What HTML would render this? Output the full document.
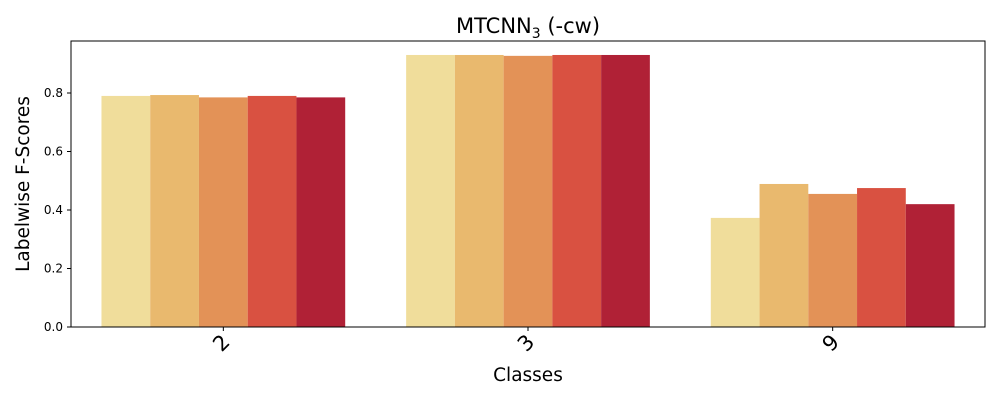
<!DOCTYPE html>
<html><head><meta charset="utf-8"><style>
body{margin:0;background:#fff;}
svg text{font-family:"DejaVu Sans","Liberation Sans",sans-serif;fill:#000;}
</style></head><body>
<svg id="chart" width="1000" height="400">
<rect width="1000" height="400" fill="#fff"/>
<g id="bars"></g>
<g id="axes"></g>
<text x="528" y="33" font-size="21" text-anchor="middle">MTCNN<tspan font-size="14" dy="5">3</tspan><tspan dy="-5"> (-cw)</tspan></text>
<text x="528" y="381" font-size="18.5" text-anchor="middle">Classes</text>
<text transform="translate(29,184) rotate(-90)" font-size="18.5" text-anchor="middle">Labelwise F-Scores</text>
</svg>
<script>
const categories=["2","3","9"];
const s1=[0.790,0.930,0.373];
const s2=[0.793,0.930,0.489];
const s3=[0.785,0.927,0.455];
const s4=[0.790,0.930,0.475];
const s5=[0.785,0.930,0.420];
const series=[s1,s2,s3,s4,s5];
const colors=["#f0dd9b","#e9b96e","#e39257","#d95141","#b02136"];
const yTicks=[0,0.2,0.4,0.6,0.8];
const L=71,R=985,T=41,B=327;
const xs=v=>L+(v+0.5)/3*(R-L);
const ys=v=>B-v*292.5;
const NS="http://www.w3.org/2000/svg";
const bars=document.getElementById('bars'),axes=document.getElementById('axes');
function mk(tag,a,p){const e=document.createElementNS(NS,tag);for(const k in a)e.setAttribute(k,a[k]);p.appendChild(e);return e;}
const bw=0.16;
series.forEach((s,si)=>s.forEach((v,ci)=>{
 const x0=xs(ci-0.4+si*bw),x1=xs(ci-0.4+(si+1)*bw);
 const r=mk('rect',{x:x0,y:ys(v),width:x1-x0,height:ys(0)-ys(v),fill:colors[si]},bars);
 
 
}));
const f=mk('rect',{x:L,y:T,width:R-L,height:B-T,fill:'none',stroke:'#000','stroke-width':1},axes);


yTicks.forEach(t=>{
 const y=ys(t);
 mk('line',{x1:L-4,x2:L,y1:y,y2:y,stroke:'#000'},axes);
 const tx=mk('text',{x:L-8,y:y+4,'font-size':12,'text-anchor':'end'},axes);
 tx.textContent=t.toFixed(1);
 
 
});
categories.forEach((c,i)=>{
 const x=xs(i);
 mk('line',{x1:x,x2:x,y1:B,y2:B+4,stroke:'#000'},axes);
 const tx=mk('text',{'font-size':21,'text-anchor':'middle',transform:`translate(${x+3},${B+21}) rotate(-45)`},axes);
 tx.textContent=c;
 
 
});
</script>
</body></html>
